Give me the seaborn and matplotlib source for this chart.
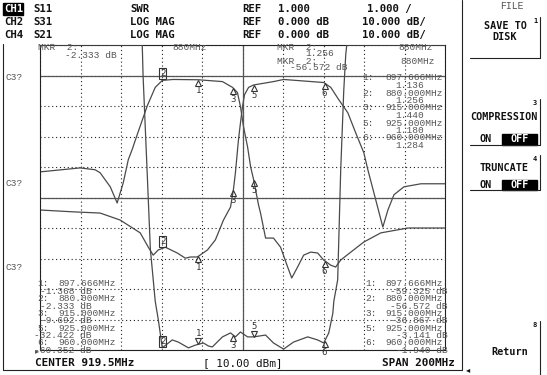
import numpy as np
import pandas as pd
import matplotlib
matplotlib.use("Agg")
import matplotlib.pyplot as plt
import matplotlib.transforms as mtransforms
import seaborn as sns

# sweep settings (from the bottom line of the screen)
center_mhz = 919.5
span_mhz = 200.0
f_start = center_mhz - span_mhz / 2
f_stop = center_mhz + span_mhz / 2

# CH4 S21, log mag in dB
s21_freq = [819.5, 839.3, 846.7, 849.2, 854.2, 857.6, 860.6, 863.1, 865.0, 867.5,
            872.5, 876.4, 879.9, 885.3, 897.7, 909.6, 914.6, 917.0, 918.5, 920.0,
            922.0, 923.5, 925.0, 927.4, 928.4, 930.9, 934.8, 938.3, 941.8, 943.8,
            946.7, 949.7, 953.2, 956.6, 959.6, 963.1, 965.5, 968.0, 973.0, 979.4,
            987.8, 1001.2, 1019.5]
s21_db = [-31.6, -30.3, -30.9, -31.9, -36.5, -41.8, -35.2, -27.6, -24.3, -19.4,
          -9.9, -3.9, -1.6, -1.3, -1.4, -2.0, -3.9, -5.6, -10.2, -16.8,
          -23.4, -29.9, -34.2, -42.4, -45.1, -53.3, -53.3, -56.3, -62.8, -66.4,
          -62.8, -58.9, -57.9, -58.2, -60.5, -62.2, -62.8, -60.5, -57.9, -54.6,
          -51.6, -50.0, -50.0]

# CH2 S31, log mag in dB
s31_freq = [819.5, 835.8, 849.2, 859.1, 869.0, 873.0, 875.4, 877.9, 881.4, 887.3,
            891.3, 893.8, 897.2, 902.2, 906.1, 910.1, 913.6, 915.0, 916.0, 917.5,
            918.5, 919.5, 920.5, 922.5, 925.0, 934.8, 939.8, 959.6, 963.1, 967.0,
            971.5, 975.4, 979.4, 981.4, 984.4, 988.8, 991.3, 994.3, 999.2, 1007.6,
            1019.5]
s31_db = [-44.1, -44.7, -45.1, -47.4, -51.6, -56.3, -58.9, -57.2, -56.3, -58.2,
          -59.9, -59.5, -59.5, -57.2, -53.9, -47.4, -43.1, -37.5, -31.9, -21.1,
          -15.5, -10.2, -6.3, -3.9, -3.1, -2.0, -1.3, -2.3, -3.9, -7.9,
          -12.2, -18.8, -25.3, -30.9, -38.5, -49.7, -44.1, -39.1, -36.5, -35.5,
          -35.5]

# CH1 S11 as SWR (goes off the top of the screen outside the band)
s11_freq = [819.5, 870.0, 870.4, 872.5, 874.0, 875.0, 876.4, 877.9, 879.9, 884.8,
            887.8, 892.8, 896.2, 900.2, 902.7, 904.6, 909.6, 913.6, 916.0, 918.5,
            922.0, 925.0, 930.9, 934.8, 939.8, 944.7, 951.7, 956.6, 959.6, 962.1,
            964.1, 964.6, 966.5, 968.0, 969.5, 970.5, 971.0, 1019.5]
s11_swr = [11.0, 11.0, 10.0, 6.7, 4.3, 3.6, 2.6, 2.0, 1.07, 1.33,
           1.26, 1.07, 1.16, 1.23, 1.13, 1.10, 1.43, 1.56, 1.43, 1.59,
           1.43, 1.43, 1.49, 1.23, 1.03, 1.26, 1.43, 1.33, 1.23, 1.56,
           2.2, 2.6, 3.3, 6.9, 9.5, 10.7, 11.0, 11.0]

# markers
marker_ids = ['1', '2', '3', '5', '6']
marker_freq = [897.666, 880.0, 915.0, 925.0, 960.0]
s11_marker_vals = ['1.136', '1.256', '1.440', '1.180', '1.284']
s21_marker_vals = ['-1.368 dB', '-2.333 dB', '-9.692 dB', '-32.422 dB', '-60.352 dB']
s31_marker_vals = ['-59.325 dB', '-56.572 dB', '-36.867 dB', '-3.141 dB', '-1.940 dB']
active = 1

header_rows = [
    ('CH1', 'S11', 'SWR', '1.000', '1.000 /'),
    ('CH2', 'S31', 'LOG MAG', '0.000 dB', '10.000 dB/'),
    ('CH4', 'S21', 'LOG MAG', '0.000 dB', '10.000 dB/'),
]

W, H = 547, 375
sns.set_style("white")
plt.rcParams['font.family'] = ['DejaVu Sans Mono', 'DejaVu Sans']

fig = plt.figure(figsize=(W / 100, H / 100), dpi=100)
fig.patch.set_facecolor('white')

gl, gr, gt, gb = 40, 445, 45, 350
ax = fig.add_axes([gl / W, 1 - gb / H, (gr - gl) / W, (gb - gt) / H])
trace_col = '#4a4a4a'
ink = '#222222'

sns.lineplot(x=s21_freq, y=s21_db, ax=ax, color=trace_col, lw=0.9,
             estimator=None, sort=False, legend=False)
sns.lineplot(x=s31_freq, y=s31_db, ax=ax, color=trace_col, lw=0.9,
             estimator=None, sort=False, legend=False)
ax.set_xlim(f_start, f_stop)
ax.set_ylim(-90, 10)
ax.set_xticks(np.linspace(f_start, f_stop, 11))
ax.set_yticks(np.arange(-90, 11, 10))
ax.grid(True, ls=(0, (1, 2.5)), color=ink, lw=0.8)
ax.tick_params(length=0, labelbottom=False, labelleft=False)
ax.set_xlabel('')
ax.set_ylabel('')
ax.axhline(0, color='#555555', lw=0.9)
ax.axhline(-40, color='#555555', lw=0.9)
ax.axvline(center_mhz, color='#555555', lw=0.9)
for s in ax.spines.values():
    s.set_color(ink)
    s.set_linewidth(0.8)

ax2 = ax.twinx()
sns.lineplot(x=s11_freq, y=s11_swr, ax=ax2, color=trace_col, lw=0.9,
             estimator=None, sort=False, legend=False)
ax2.set_ylim(1, 11)
ax2.set_yticks([])
ax2.set_ylabel('')
for s in ax2.spines.values():
    s.set_visible(False)

num_style = dict(family='DejaVu Sans Mono', size=6.5, color='#333333')


def put_marker(axis, freq, vals, f, label, kind):
    v = np.interp(f, freq, vals)
    if kind == 'box':
        axis.annotate(label, (f, v), xytext=(0, 1.5), textcoords='offset points',
                      ha='center', va='bottom', **num_style,
                      bbox=dict(boxstyle='square,pad=0.12', fc='none', ec='#333333', lw=0.8))
        return
    if kind == 'up':
        tr = mtransforms.offset_copy(axis.transData, fig=fig, x=0, y=-2.2, units='points')
        axis.plot([f], [v], marker='^', ms=5, mfc='none', mec='#333333', mew=0.8, transform=tr)
        axis.annotate(label, (f, v), xytext=(0, -4.5), textcoords='offset points',
                      ha='center', va='top', **num_style)
    else:
        tr = mtransforms.offset_copy(axis.transData, fig=fig, x=0, y=2.2, units='points')
        axis.plot([f], [v], marker='v', ms=5, mfc='none', mec='#333333', mew=0.8, transform=tr)
        axis.annotate(label, (f, v), xytext=(0, 4.5), textcoords='offset points',
                      ha='center', va='bottom', **num_style)


for i, (mid, mf) in enumerate(zip(marker_ids, marker_freq)):
    k = 'box' if i == active else 'up'
    put_marker(ax, s21_freq, s21_db, mf, mid, k)
    put_marker(ax, s31_freq, s31_db, mf, mid, k)
    k2 = 'box' if i == active else ('down' if mid in ('1', '5') else 'up')
    put_marker(ax2, s11_freq, s11_swr, mf, mid, k2)

# overlay in screen pixels for the text and frames
ov = fig.add_axes([0, 0, 1, 1], zorder=5)
ov.set_xlim(0, W)
ov.set_ylim(H, 0)
ov.axis('off')
ov.patch.set_alpha(0)

hdr = dict(family='DejaVu Sans Mono', weight='bold', size=7.7, color='#111111')
scr = dict(family='Liberation Mono', size=6.8, color='#555555')
btn = dict(family='DejaVu Sans Mono', weight='bold', size=7.3, color='#111111')


def txt(x, y, s, st, ha='left', **kw):
    ov.text(x, y, s, ha=ha, va='center', **st, **kw)


# channel header
ov.add_patch(plt.Rectangle((3, 3), 20, 12, color='black'))
for r, (ch, par, fmt, ref, scale) in enumerate(header_rows):
    y = 9 + 13 * r
    txt(4, y, ch, dict(hdr, color='white' if r == 0 else '#111111'))
    txt(33, y, par, hdr)
    txt(130, y, fmt, hdr)
    txt(242, y, 'REF', hdr)
    txt(278, y, ref, hdr)
    txt(367 if r == 0 else 362, y, scale, hdr)

# frames
ov.plot([3, 3, 462, 462], [44, 370, 370, 0], color=ink, lw=0.8)

# channel labels on the left
for y in [77, 183, 268]:
    txt(6, y, 'C3?', scr)

# active marker readouts at the top of the grid
amk = marker_ids[active]
af = '%dMHz' % round(marker_freq[active])
txt(38, 47, 'MKR  %s:' % amk, scr)
txt(65, 56, s21_marker_vals[active], scr)
txt(172, 47, af, scr)
txt(277, 47, 'MKR  %s:' % amk, scr)
txt(305, 54, s11_marker_vals[active], scr)
txt(277, 61, 'MKR  %s:' % amk, scr)
txt(290, 68, s31_marker_vals[active], scr)
txt(398, 47, af, scr)
txt(400, 61, af, scr)

# marker listings
for i, (mid, mf) in enumerate(zip(marker_ids, marker_freq)):
    fs = '%.3fMHz' % mf
    # S11 (top right)
    y = 78 + 15 * i
    txt(362, y, mid + ':', scr)
    txt(385, y, fs, scr)
    txt(395, y + 7.5, s11_marker_vals[i], scr)
    # S21 (bottom left)
    y = 284 + 14.7 * i
    txt(37, y, mid + ':', scr)
    txt(58, y, fs, scr)
    txt(92, y + 7.35, s21_marker_vals[i], scr, ha='right')
    # S31 (bottom right)
    txt(365, y, mid + ':', scr)
    txt(385, y, fs, scr)
    txt(448, y + 7.35, s31_marker_vals[i], scr, ha='right')

txt(35, 351, '\u25b8', dict(scr, family='DejaVu Sans', size=6))

# bottom line
txt(35, 363, 'CENTER %.1fMHz' % center_mhz, dict(hdr, size=7.9))
txt(243, 363, '[ 10.00 dBm]', dict(hdr, weight='normal', size=7.9), ha='center')
txt(455, 363, 'SPAN %dMHz' % span_mhz, dict(hdr, size=7.9), ha='right')

# softkey panel
txt(500, 6, 'FILE', dict(scr, size=7))
txt(505, 26, 'SAVE TO', btn, ha='center')
txt(505, 37, 'DISK', btn, ha='center')
txt(504, 117, 'COMPRESSION', btn, ha='center')
txt(504, 168, 'TRUNCATE', btn, ha='center')
for y0, y1 in [(134, 145), (180, 190)]:
    ov.add_patch(plt.Rectangle((502, y0), 35, y1 - y0, color='black'))
    txt(486, (y0 + y1) / 2, 'ON', btn, ha='center')
    txt(519.5, (y0 + y1) / 2, 'OFF', dict(btn, color='white'), ha='center')
txt(510, 352, 'Return', btn, ha='center')
for num, y_top, y_bot in [('1', 17, 58), ('3', 99, 145), ('4', 155, 190), ('8', 321, 375)]:
    txt(535, y_top + 4, num, dict(hdr, size=5), ha='center')
    ov.plot([540, 540], [y_top, y_bot], color=ink, lw=0.8)
    if num != '8':
        ov.plot([470, 540], [y_bot, y_bot], color=ink, lw=0.8)
txt(466, 370, '\u25c2', dict(scr, family='DejaVu Sans', size=6, color='#111111'))

fig.savefig('out.png', dpi=100, facecolor='white')
